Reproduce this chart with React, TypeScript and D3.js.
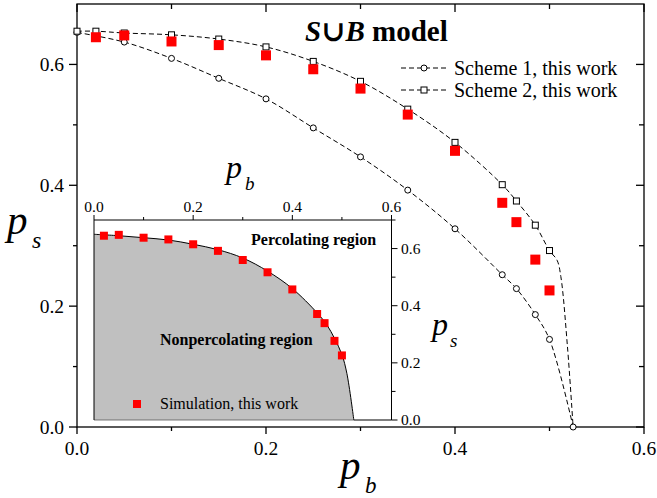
import React from "react";
import * as d3 from "d3";

// Scheme 1 (circles)
const scheme1Pb = [0, 0.05, 0.1, 0.15, 0.2, 0.25, 0.3, 0.35, 0.4, 0.45, 0.465, 0.485, 0.5, 0.525];
const scheme1Ps = [0.653, 0.637, 0.61, 0.577, 0.543, 0.495, 0.447, 0.392, 0.328, 0.252, 0.229, 0.186, 0.145, 0];

// Scheme 2 (squares)
const scheme2Pb = [0, 0.02, 0.05, 0.1, 0.15, 0.2, 0.25, 0.3, 0.35, 0.4, 0.45, 0.465, 0.485, 0.5];
const scheme2Ps = [0.655, 0.655, 0.652, 0.649, 0.642, 0.629, 0.605, 0.572, 0.526, 0.471, 0.401, 0.374, 0.334, 0.292];
// tail of the scheme 2 dashed curve (no markers)
const scheme2TailPb = [0.508, 0.512, 0.519, 0.525];
const scheme2TailPs = [0.276, 0.249, 0.133, 0];

// Simulation (red squares)
const simPb = [0.02, 0.05, 0.1, 0.15, 0.2, 0.25, 0.3, 0.35, 0.4, 0.45, 0.465, 0.485, 0.5];
const simPs = [0.645, 0.648, 0.638, 0.632, 0.615, 0.592, 0.56, 0.517, 0.457, 0.371, 0.339, 0.277, 0.226];

// Inset boundary curve (then flat along p_s = 0 up to 0.6)
const boundaryPb = [0, 0.05, 0.1, 0.15, 0.2, 0.25, 0.3, 0.35, 0.4, 0.45, 0.47, 0.485, 0.5, 0.51, 0.524];
const boundaryPs = [0.65, 0.645, 0.638, 0.63, 0.615, 0.596, 0.567, 0.521, 0.46, 0.375, 0.332, 0.286, 0.229, 0.163, 0];

const mainXTicks = [0, 0.2, 0.4, 0.6];
const mainYTicks = [0, 0.2, 0.4, 0.6];
const minorTicks = [0.1, 0.3, 0.5];
const insetXTicks = [0, 0.2, 0.4, 0.6];
const insetYTicks = [0, 0.2, 0.4, 0.6];
const insetYMinor = [0.1, 0.3, 0.5, 0.7];

const font = "'Liberation Serif', Tinos, 'Times New Roman', 'DejaVu Serif', serif";
const zip = (a: number[], b: number[]) => a.map((v, i) => [v, b[i]] as [number, number]);

export default function App() {
  const x = d3.scaleLinear().domain([0, 0.6]).range([77, 644]);
  const y = d3.scaleLinear().domain([0, 0.7]).range([427, 4]);
  const ix = d3.scaleLinear().domain([0, 0.6]).range([94, 391.5]);
  const iy = d3.scaleLinear().domain([0, 0.7]).range([420, 220]);

  const line = d3
    .line<[number, number]>()
    .x((d) => x(d[0]))
    .y((d) => y(d[1]))
    .curve(d3.curveCatmullRom.alpha(0.5));

  const s1 = zip(scheme1Pb, scheme1Ps);
  const s2 = zip(scheme2Pb, scheme2Ps);
  const s2line = s2.concat(zip(scheme2TailPb, scheme2TailPs));
  const sim = zip(simPb, simPs);
  const boundary = zip(boundaryPb, boundaryPs);
  const bEnd = boundary[boundary.length - 1];

  const iline = d3
    .line<[number, number]>()
    .x((d) => ix(d[0]))
    .y((d) => iy(d[1]))
    .curve(d3.curveCatmullRom.alpha(0.5));
  const iarea = d3
    .area<[number, number]>()
    .x((d) => ix(d[0]))
    .y0(iy(0))
    .y1((d) => iy(d[1]))
    .curve(d3.curveCatmullRom.alpha(0.5));

  const [x0, x1] = x.range();
  const [y0, y1] = y.range();

  const T = (props: any) => <text fontFamily={font} {...props} />;

  return (
    <svg width={657} height={498} style={{ position: "absolute", left: 0, top: 0, background: "white" }}>
      {/* main frame */}
      <rect x={x0} y={y1} width={x1 - x0} height={y0 - y1} fill="white" stroke="black" strokeWidth={1.3} />

      {/* main ticks */}
      {mainXTicks.map((t) => (
        <g key={"mx" + t}>
          <line x1={x(t)} x2={x(t)} y1={y0} y2={y0 + 7} stroke="black" strokeWidth={1.3} />
          <line x1={x(t)} x2={x(t)} y1={y1} y2={y1 + 8} stroke="black" strokeWidth={1.3} />
          <T x={x(t)} y={455} fontSize={19.5} textAnchor="middle">
            {t.toFixed(1)}
          </T>
        </g>
      ))}
      {minorTicks.map((t) => (
        <g key={"mxm" + t}>
          <line x1={x(t)} x2={x(t)} y1={y0} y2={y0 + 4} stroke="black" strokeWidth={1.3} />
          <line x1={x(t)} x2={x(t)} y1={y1} y2={y1 + 5} stroke="black" strokeWidth={1.3} />
          <line x1={x0} x2={x0 - 4} y1={y(t)} y2={y(t)} stroke="black" strokeWidth={1.3} />
          <line x1={x1} x2={x1 - 5} y1={y(t)} y2={y(t)} stroke="black" strokeWidth={1.3} />
        </g>
      ))}
      {mainYTicks.map((t) => (
        <g key={"my" + t}>
          <line x1={x0} x2={x0 - 8} y1={y(t)} y2={y(t)} stroke="black" strokeWidth={1.3} />
          <line x1={x1} x2={x1 - 8} y1={y(t)} y2={y(t)} stroke="black" strokeWidth={1.3} />
          <T x={64} y={y(t) + 6.5} fontSize={19.5} textAnchor="end">
            {t.toFixed(1)}
          </T>
        </g>
      ))}

      {/* axis labels */}
      <T x={7} y={234} fontSize={41} fontStyle="italic">
        p
      </T>
      <T x={32} y={248} fontSize={24} fontStyle="italic">
        s
      </T>
      <T x={340} y={479} fontSize={41} fontStyle="italic">
        p
      </T>
      <T x={365} y={493} fontSize={23} fontStyle="italic">
        b
      </T>

      {/* title */}
      <T x={305} y={40.5} fontSize={29} fontWeight="bold">
        <tspan fontStyle="italic">S</tspan>
        <tspan>∪</tspan>
        <tspan fontStyle="italic">B</tspan>
        <tspan> model</tspan>
      </T>

      {/* scheme curves */}
      <path d={line(s1) ?? ""} fill="none" stroke="black" strokeWidth={1} strokeDasharray="5,3" />
      <path d={line(s2line) ?? ""} fill="none" stroke="black" strokeWidth={1} strokeDasharray="5,3" />
      {s1.map((d, i) => (
        <circle key={"c" + i} cx={x(d[0])} cy={y(d[1])} r={3} fill="white" stroke="black" strokeWidth={1} />
      ))}
      {s2.map((d, i) => (
        <rect key={"q" + i} x={x(d[0]) - 3} y={y(d[1]) - 3} width={6} height={6} fill="white" stroke="black" strokeWidth={1} />
      ))}
      {sim.map((d, i) => (
        <rect key={"r" + i} x={x(d[0]) - 5} y={y(d[1]) - 5} width={10} height={10} fill="#ff0000" />
      ))}

      {/* legend */}
      {[
        { label: "Scheme 1, this work", ly: 68, ty: 74.5, shape: "circle" },
        { label: "Scheme 2, this work", ly: 90, ty: 96.5, shape: "square" },
      ].map((l) => (
        <g key={l.label}>
          <line x1={401} x2={446} y1={l.ly} y2={l.ly} stroke="black" strokeWidth={1} strokeDasharray="5,3" />
          {l.shape === "circle" ? (
            <circle cx={424} cy={l.ly} r={3} fill="white" stroke="black" />
          ) : (
            <rect x={421} y={l.ly - 3} width={6} height={6} fill="white" stroke="black" />
          )}
          <T x={454} y={l.ty} fontSize={20}>
            {l.label}
          </T>
        </g>
      ))}

      {/* inset */}
      <rect x={ix(0)} y={iy(0.7)} width={ix(0.6) - ix(0)} height={iy(0) - iy(0.7)} fill="white" />
      <path d={iarea(boundary) ?? ""} fill="#c0c0c0" stroke="none" />
      <line x1={ix(0)} x2={ix(bEnd[0])} y1={iy(0)} y2={iy(0)} stroke="#555" strokeWidth={0.8} />
      <path d={iline(boundary) ?? ""} fill="none" stroke="black" strokeWidth={1} />
      <line x1={ix(bEnd[0])} x2={ix(0.6)} y1={iy(0)} y2={iy(0)} stroke="black" strokeWidth={1.2} />
      <path
        d={`M${ix(0)},${iy(0)}V${iy(0.7)}H${ix(0.6)}V${iy(0)}`}
        fill="none"
        stroke="black"
        strokeWidth={1}
      />
      {insetXTicks.map((t) => (
        <g key={"ix" + t}>
          <line x1={ix(t)} x2={ix(t)} y1={iy(0.7)} y2={iy(0.7) - 5} stroke="black" />
          <T x={ix(t)} y={212} fontSize={15.5} textAnchor="middle">
            {t.toFixed(1)}
          </T>
        </g>
      ))}
      {minorTicks.map((t) => (
        <line key={"ixm" + t} x1={ix(t)} x2={ix(t)} y1={iy(0.7)} y2={iy(0.7) - 3} stroke="black" />
      ))}
      {insetYTicks.map((t) => (
        <g key={"iy" + t}>
          <line x1={ix(0.6)} x2={ix(0.6) + 6} y1={iy(t)} y2={iy(t)} stroke="black" />
          <T x={401} y={iy(t) + 5} fontSize={15.5}>
            {t.toFixed(1)}
          </T>
        </g>
      ))}
      {insetYMinor.map((t) => (
        <line key={"iym" + t} x1={ix(0.6)} x2={ix(0.6) + 4} y1={iy(t)} y2={iy(t)} stroke="black" />
      ))}
      {sim.map((d, i) => (
        <rect key={"ir" + i} x={ix(d[0]) - 4} y={iy(d[1]) - 4} width={8} height={8} fill="#ff0000" />
      ))}

      <T x={226} y={178} fontSize={32} fontStyle="italic">
        p
      </T>
      <T x={245} y={190} fontSize={19} fontStyle="italic">
        b
      </T>
      <T x={432} y={335} fontSize={32} fontStyle="italic">
        p
      </T>
      <T x={450} y={347} fontSize={19} fontStyle="italic">
        s
      </T>

      <T x={251} y={245} fontSize={16} fontWeight="bold">
        Percolating region
      </T>
      <T x={160} y={344.5} fontSize={16} fontWeight="bold">
        Nonpercolating region
      </T>
      <rect x={133} y={400} width={8} height={8} fill="#ff0000" />
      <T x={160} y={408.5} fontSize={16}>
        Simulation, this work
      </T>
    </svg>
  );
}
